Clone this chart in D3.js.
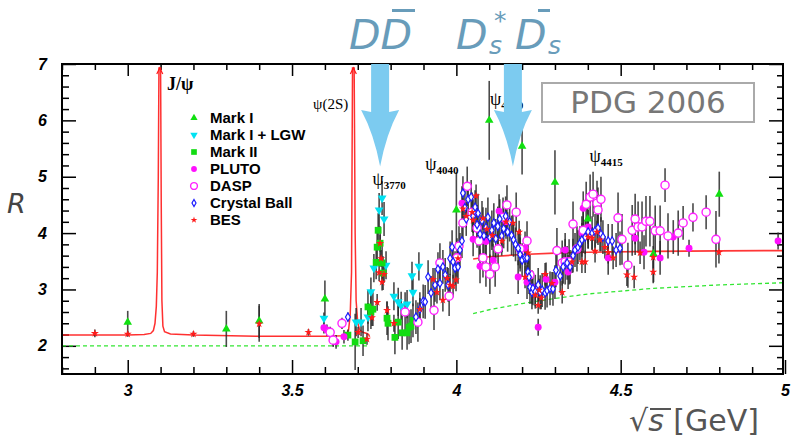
<!DOCTYPE html>
<html>
<head>
<meta charset="utf-8">
<script src="https://cdn.jsdelivr.net/npm/d3@7"></script>
<style>
  html, body { margin: 0; padding: 0; background: #fff; }
  svg { display: block; }
</style>
</head>
<body>
<svg id="chart" width="792" height="438"></svg>
<script>
// ---- Measurements: [sqrt(s) in GeV, R, error on R] ----
const markI = [
  [3.000, 2.42, 0.20], [3.300, 2.30, 0.32], [3.400, 2.44, 0.30], [3.600, 2.83, 0.33],
  [4.000, 4.41, 0.67], [4.100, 6.00, 0.70], [4.200, 5.54, 0.50], [4.300, 4.90, 0.57],
  [4.400, 4.25, 0.40], [4.600, 3.63, 0.50], [4.800, 4.69, 0.40]
];
const markILGW = [
  [3.597, 2.49, 0.10], [3.695, 2.42, 0.25], [3.710, 2.42, 0.25], [3.731, 2.51, 0.25],
  [3.740, 2.96, 0.25], [3.749, 3.38, 0.25], [3.765, 4.41, 0.30], [3.774, 4.62, 0.30],
  [3.780, 4.25, 0.30], [3.786, 3.43, 0.25], [3.810, 2.88, 0.25], [3.823, 2.78, 0.25],
  [3.832, 2.71, 0.25], [3.850, 2.74, 0.25], [3.865, 3.24, 0.25], [3.868, 2.95, 0.25],
  [3.886, 3.41, 0.25]
];
const markII = [
  [3.670, 2.19, 0.10], [3.692, 2.07, 0.50], [3.716, 2.09, 0.27], [3.731, 2.69, 0.30],
  [3.740, 2.60, 0.30], [3.746, 2.65, 0.30], [3.756, 3.48, 0.30], [3.759, 3.75, 0.30],
  [3.762, 4.05, 0.30], [3.768, 3.82, 0.30], [3.774, 3.47, 0.30], [3.777, 3.29, 0.30],
  [3.789, 2.49, 0.30], [3.792, 2.40, 0.30], [3.813, 2.15, 0.30], [3.823, 2.42, 0.30],
  [3.835, 2.23, 0.30], [3.850, 2.23, 0.30], [3.856, 2.33, 0.30], [3.862, 2.35, 0.30],
  [3.868, 2.45, 0.30]
];
const pluto = [
  [3.597, 2.32, 0.10], [3.606, 2.28, 0.10], [3.625, 2.10, 0.12], [3.634, 2.07, 0.12],
  [3.658, 2.16, 0.12], [4.017, 4.53, 0.30], [4.051, 3.89, 0.30], [4.072, 3.41, 0.30],
  [4.090, 3.85, 0.30], [4.112, 3.52, 0.30], [4.130, 4.39, 0.30], [4.151, 4.20, 0.30],
  [4.188, 3.22, 0.30], [4.209, 3.73, 0.30], [4.215, 3.13, 0.30], [4.230, 3.04, 0.30],
  [4.249, 2.33, 0.15], [4.273, 3.18, 0.30], [4.300, 3.13, 0.30], [4.331, 3.70, 0.30],
  [4.340, 3.31, 0.30], [4.382, 4.00, 0.30], [4.386, 4.44, 0.30], [4.401, 4.11, 0.30],
  [4.462, 3.56, 0.30], [4.544, 3.91, 0.30], [4.571, 3.66, 0.30], [4.620, 3.56, 0.30],
  [4.660, 3.93, 0.30], [4.708, 3.73, 0.15], [4.979, 3.86, 0.15]
];
const dasp = [
  [3.616, 2.24, 0.10], [3.625, 2.10, 0.10], [3.652, 2.40, 0.10], [3.844, 2.60, 0.35],
  [3.883, 2.42, 0.35], [3.932, 2.63, 0.35], [3.950, 3.47, 0.35], [3.978, 2.88, 0.35],
  [4.002, 3.56, 0.35], [4.008, 3.77, 0.35], [4.020, 4.18, 0.35], [4.033, 4.83, 0.35],
  [4.048, 4.37, 0.35], [4.063, 4.09, 0.35], [4.069, 3.86, 0.35], [4.081, 3.56, 0.35],
  [4.090, 3.40, 0.35], [4.102, 3.27, 0.35], [4.118, 3.40, 0.35], [4.127, 3.72, 0.35],
  [4.142, 4.28, 0.35], [4.154, 4.50, 0.35], [4.182, 4.37, 0.35], [4.194, 3.72, 0.35],
  [4.215, 3.86, 0.35], [4.224, 3.26, 0.35], [4.306, 3.69, 0.40], [4.322, 3.47, 0.40],
  [4.331, 3.49, 0.40], [4.343, 3.49, 0.40], [4.355, 4.16, 0.40], [4.367, 3.72, 0.40],
  [4.386, 4.05, 0.40], [4.395, 4.51, 0.40], [4.407, 4.64, 0.40], [4.416, 4.69, 0.40],
  [4.428, 4.53, 0.40], [4.431, 4.41, 0.40], [4.440, 4.60, 0.40], [4.492, 4.27, 0.45],
  [4.504, 3.89, 0.45], [4.522, 3.43, 0.40], [4.535, 4.05, 0.45], [4.544, 4.25, 0.45],
  [4.553, 4.11, 0.45], [4.565, 4.11, 0.45], [4.577, 4.21, 0.45], [4.589, 4.21, 0.45],
  [4.605, 4.04, 0.45], [4.620, 4.04, 0.45], [4.635, 4.85, 0.30], [4.644, 3.95, 0.40],
  [4.675, 4.00, 0.40], [4.690, 4.18, 0.30], [4.720, 4.28, 0.25], [4.760, 4.37, 0.30],
  [4.790, 3.89, 0.50]
];
const crystalBall = [
  [3.670, 2.51, 0.08], [3.877, 2.51, 0.30], [3.889, 2.65, 0.30], [3.899, 2.79, 0.30],
  [3.905, 2.78, 0.30], [3.914, 3.22, 0.30], [3.923, 2.94, 0.30], [3.935, 3.08, 0.30],
  [3.944, 3.36, 0.30], [3.950, 3.11, 0.30], [3.959, 3.40, 0.30], [3.966, 3.26, 0.30],
  [3.975, 3.08, 0.30], [3.981, 3.55, 0.30], [3.987, 3.75, 0.30], [3.990, 3.49, 0.30],
  [3.996, 3.38, 0.30], [4.005, 3.40, 0.30], [4.011, 3.70, 0.30], [4.017, 3.86, 0.30],
  [4.020, 4.71, 0.30], [4.026, 4.45, 0.30], [4.030, 4.25, 0.30], [4.036, 4.60, 0.30],
  [4.045, 4.64, 0.30], [4.051, 4.30, 0.30], [4.057, 4.46, 0.30], [4.063, 4.15, 0.35],
  [4.066, 4.35, 0.35], [4.072, 3.98, 0.35], [4.078, 4.22, 0.35], [4.084, 3.95, 0.35],
  [4.090, 4.10, 0.35], [4.096, 4.28, 0.35], [4.102, 3.92, 0.35], [4.108, 4.05, 0.35],
  [4.114, 4.18, 0.35], [4.120, 3.90, 0.35], [4.126, 4.12, 0.35], [4.132, 4.25, 0.35],
  [4.138, 3.95, 0.35], [4.144, 4.08, 0.35], [4.150, 4.30, 0.35], [4.156, 4.02, 0.35],
  [4.162, 4.20, 0.35], [4.168, 3.96, 0.35], [4.174, 3.88, 0.30], [4.180, 3.80, 0.30],
  [4.188, 3.73, 0.30], [4.194, 3.62, 0.30], [4.200, 3.52, 0.30], [4.209, 3.56, 0.30],
  [4.215, 3.56, 0.30], [4.218, 3.31, 0.30], [4.221, 3.22, 0.30], [4.224, 3.04, 0.30],
  [4.230, 2.95, 0.30], [4.233, 3.02, 0.30], [4.240, 2.96, 0.30], [4.249, 3.08, 0.30],
  [4.255, 2.95, 0.30], [4.261, 2.99, 0.30], [4.270, 2.94, 0.30], [4.276, 2.98, 0.30],
  [4.285, 3.02, 0.30], [4.294, 3.01, 0.30], [4.303, 3.34, 0.30], [4.316, 3.24, 0.30],
  [4.325, 3.40, 0.30], [4.337, 3.47, 0.30], [4.346, 3.40, 0.30], [4.355, 3.60, 0.30],
  [4.361, 3.70, 0.30], [4.370, 3.75, 0.30], [4.376, 3.82, 0.30], [4.382, 3.88, 0.30],
  [4.392, 3.93, 0.30], [4.401, 4.02, 0.30], [4.413, 4.00, 0.30], [4.422, 4.04, 0.30],
  [4.431, 4.09, 0.30], [4.440, 3.98, 0.30], [4.446, 3.93, 0.30], [4.462, 3.86, 0.30],
  [4.474, 3.86, 0.30], [4.486, 3.70, 0.30], [4.498, 3.73, 0.30]
];
const bes = [
  [2.900, 2.22, 0.07], [3.000, 2.21, 0.05], [3.200, 2.21, 0.05], [3.400, 2.39, 0.32],
  [3.550, 2.24, 0.06], [3.701, 2.24, 0.10], [3.728, 2.12, 0.10], [3.743, 2.50, 0.15],
  [3.759, 2.77, 0.15], [3.765, 3.30, 0.15], [3.768, 3.82, 0.15], [3.771, 3.55, 0.15],
  [3.774, 3.13, 0.15], [3.780, 3.27, 0.15], [3.789, 2.63, 0.15], [3.810, 2.40, 0.15],
  [3.889, 2.65, 0.20], [3.929, 3.18, 0.20], [3.941, 2.95, 0.20], [3.959, 2.81, 0.20],
  [3.972, 3.20, 0.20], [3.981, 3.08, 0.20], [3.990, 3.06, 0.20], [3.999, 3.17, 0.20],
  [4.005, 3.55, 0.20], [4.020, 4.43, 0.20], [4.030, 4.30, 0.20], [4.048, 4.37, 0.20],
  [4.051, 4.23, 0.20], [4.060, 4.66, 0.20], [4.081, 4.26, 0.20], [4.093, 4.07, 0.20],
  [4.109, 3.96, 0.20], [4.139, 3.86, 0.20], [4.151, 4.20, 0.20], [4.172, 4.18, 0.20],
  [4.191, 4.02, 0.20], [4.209, 3.22, 0.20], [4.218, 3.65, 0.20], [4.240, 2.90, 0.20],
  [4.249, 2.72, 0.15], [4.252, 2.99, 0.20], [4.258, 2.85, 0.20], [4.270, 3.27, 0.20],
  [4.291, 3.11, 0.20], [4.322, 2.95, 0.20], [4.352, 3.49, 0.20], [4.382, 3.49, 0.20],
  [4.392, 3.49, 0.20], [4.401, 3.93, 0.20], [4.413, 3.91, 0.20], [4.422, 3.68, 0.20],
  [4.428, 4.02, 0.20], [4.437, 3.88, 0.20], [4.452, 3.75, 0.20], [4.462, 3.66, 0.20],
  [4.477, 3.56, 0.20], [4.519, 3.26, 0.20], [4.541, 3.22, 0.20], [4.559, 3.65, 0.20],
  [4.599, 3.57, 0.20], [4.599, 3.31, 0.20], [4.799, 3.66, 0.20]
];

// ---- Curves: [sqrt(s), R] ----
const resonanceCurve = [
  [2.800, 2.19], [2.900, 2.19], [3.000, 2.19], [3.050, 2.20], [3.070, 2.22], [3.078, 2.27],
  [3.083, 2.40], [3.087, 2.70], [3.090, 3.30], [3.093, 5.00], [3.095, 6.93], [3.100, 6.93],
  [3.102, 4.50], [3.104, 2.80], [3.107, 2.35], [3.112, 2.25], [3.130, 2.21], [3.200, 2.19],
  [3.400, 2.17], [3.600, 2.17], [3.650, 2.18], [3.665, 2.20], [3.672, 2.28], [3.677, 2.55],
  [3.681, 3.30], [3.684, 6.93], [3.689, 6.93], [3.692, 4.00], [3.695, 2.80], [3.700, 2.40],
  [3.706, 2.28], [3.715, 2.24], [3.728, 2.22], [3.733, 2.20], [3.736, 2.16]
];
const highCurve = [
  [4.051, 3.54], [4.100, 3.58], [4.200, 3.62], [4.300, 3.645], [4.400, 3.66],
  [4.600, 3.675], [4.800, 3.685], [5.000, 3.69]
];
const udsLow = [[2.800, 2.00], [3.736, 2.00]];
const udsHigh = [
  [4.051, 2.57], [4.100, 2.64], [4.200, 2.75], [4.300, 2.84], [4.400, 2.92], [4.500, 2.97],
  [4.600, 3.02], [4.700, 3.05], [4.800, 3.08], [4.900, 3.10], [5.000, 3.12]
];
const offScalePeaks = [3.0975, 3.6865];

// ---- Labels ----
const xTickLabels = [3, 3.5, 4, 4.5, 5];
const yTickLabels = [2, 3, 4, 5, 6, 7];
const thresholds = [3.768, 4.172];   // arrow positions (GeV)
const resonances = [
  {name: "ψ", sub: "3770", E: 3.745, R: 4.86},
  {name: "ψ", sub: "4040", E: 3.905, R: 5.12},
  {name: "ψ", sub: "4160", E: 4.102, R: 6.27},
  {name: "ψ", sub: "4415", E: 4.405, R: 5.27}
];
const legendEntries = ["Mark I", "Mark I + LGW", "Mark II", "PLUTO", "DASP", "Crystal Ball", "BES"];

// ---- Layout ----
const svg = d3.select("#chart");
const padL = 62, padR = 783, padT = 64, padB = 374;
const x = d3.scaleLinear().domain([2.8, 5.0]).range([padL, 785]);
const y = d3.scaleLinear().domain([1.5, 7.0]).range([padB, padT]);

svg.append("defs").append("clipPath").attr("id", "plotClip")
  .append("rect").attr("x", padL).attr("y", padT).attr("width", padR - padL).attr("height", padB - padT);

// ---- Axes (ticks point inward on all four sides) ----
const xMinor = x.ticks(22).filter(v => !xTickLabels.some(m => Math.abs(m - v) < 1e-6));
const yMinor = d3.range(1.6, 7.0001, 0.2).filter(v => !yTickLabels.some(m => Math.abs(m - v) < 1e-6));
const tickStyle = g => {
  g.select(".domain").remove();
  g.selectAll(".tick line").attr("stroke", "#000").attr("stroke-width", 1.5);
  g.selectAll(".tick text").attr("fill", "#000")
    .style("font-family", "'Liberation Sans', Arial, sans-serif")
    .style("font-weight", "bold").style("font-style", "italic").style("font-size", "16px");
};
const noLabel = () => "";

svg.append("g").attr("transform", `translate(0,${padB})`)
  .call(d3.axisBottom(x).tickValues(xMinor).tickSize(-7).tickFormat(noLabel)).call(tickStyle);
svg.append("g").attr("transform", `translate(0,${padB})`)
  .call(d3.axisBottom(x).tickValues(xTickLabels).tickSize(-14).tickPadding(11).tickFormat(d3.format("~g")))
  .call(tickStyle);
svg.append("g").attr("transform", `translate(0,${padT})`)
  .call(d3.axisTop(x).tickValues(xMinor).tickSize(-6).tickFormat(noLabel)).call(tickStyle);
svg.append("g").attr("transform", `translate(0,${padT})`)
  .call(d3.axisTop(x).tickValues(xTickLabels.filter(v => v < 5)).tickSize(-12).tickFormat(noLabel)).call(tickStyle);
svg.append("g").attr("transform", `translate(${padL},0)`)
  .call(d3.axisLeft(y).tickValues(yMinor).tickSize(-7).tickFormat(noLabel)).call(tickStyle);
svg.append("g").attr("transform", `translate(${padL},0)`)
  .call(d3.axisLeft(y).tickValues(yTickLabels).tickSize(-14).tickPadding(15).tickFormat(d3.format("d")))
  .call(tickStyle);
svg.append("g").attr("transform", `translate(${padR},0)`)
  .call(d3.axisRight(y).tickValues(yMinor).tickSize(-6).tickFormat(noLabel)).call(tickStyle);
svg.append("g").attr("transform", `translate(${padR},0)`)
  .call(d3.axisRight(y).tickValues(yTickLabels).tickSize(-14).tickFormat(noLabel)).call(tickStyle);

// ---- Curves ----
const plot = svg.append("g").attr("clip-path", "url(#plotClip)");
const line = d3.line().x(d => x(d[0])).y(d => y(d[1]));
plot.append("path").datum(udsLow).attr("d", line).attr("fill", "none")
  .attr("stroke", "#33e633").attr("stroke-width", 1.3).attr("stroke-dasharray", "4,3");
plot.append("path").datum(udsHigh).attr("d", line).attr("fill", "none")
  .attr("stroke", "#33e633").attr("stroke-width", 1.3).attr("stroke-dasharray", "4,3");
plot.append("path").datum(resonanceCurve).attr("d", line).attr("fill", "none")
  .attr("stroke", "#ff1a1a").attr("stroke-width", 1.5).attr("stroke-opacity", 0.9);
plot.append("path").datum(highCurve).attr("d", line).attr("fill", "none")
  .attr("stroke", "#ff2020").attr("stroke-width", 1.7).attr("stroke-opacity", 0.9);
// carets marking peaks that run off the top
svg.selectAll(".peakCaret").data(offScalePeaks).join("path").attr("class", "peakCaret")
  .attr("transform", d => `translate(${x(d)},${y(6.93)})`)
  .attr("d", "M-3,6L0,0L3,6").attr("fill", "none").attr("stroke", "#ff1a1a").attr("stroke-width", 1.2);

// ---- Data series ----
const series = [
  {data: markI,       type: d3.symbolTriangle, size: 32, rot: 0,   fill: "#10e010", stroke: "none"},
  {data: markILGW,    type: d3.symbolTriangle, size: 34, rot: 180, fill: "#00e2f2", stroke: "none"},
  {data: markII,      type: d3.symbolSquare,   size: 46, rot: 0,   fill: "#12dc12", stroke: "none"},
  {data: pluto,       type: d3.symbolCircle,   size: 38, rot: 0,   fill: "#ff10ff", stroke: "none"},
  {data: dasp,        type: d3.symbolCircle,   size: 52, rot: 0,   fill: "#fff",    stroke: "#ff22ff", sw: 1.4},
  {data: crystalBall, type: d3.symbolDiamond,  size: 20, rot: 0,   fill: "#fff",    stroke: "#1a1aff", sw: 1.2},
  {data: bes,         type: d3.symbolStar,     size: 20, rot: 0,   fill: "#ff1a1a", stroke: "none"}
];

const errLayer = plot.append("g");
series.forEach(s => {
  errLayer.selectAll(null).data(s.data).join("line")
    .attr("x1", d => x(d[0])).attr("x2", d => x(d[0]))
    .attr("y1", d => y(d[1] - d[2])).attr("y2", d => y(d[1] + d[2]))
    .attr("stroke", "#2a2a2a").attr("stroke-width", 1.6).attr("stroke-opacity", 0.85);
});
series.forEach(s => {
  plot.append("g").selectAll("path").data(s.data).join("path")
    .attr("transform", d => `translate(${x(d[0])},${y(d[1])}) rotate(${s.rot})`)
    .attr("d", d3.symbol().type(s.type).size(s.size))
    .attr("fill", s.fill).attr("stroke", s.stroke).attr("stroke-width", s.sw || 0);
});

// ---- Frame ----
svg.append("rect").attr("x", padL).attr("y", padT).attr("width", padR - padL).attr("height", padB - padT)
  .attr("fill", "none").attr("stroke", "#000").attr("stroke-width", 2);

// ---- Resonance labels ----
const serif = "'Liberation Serif', 'Times New Roman', serif";
svg.append("text").attr("x", 167).attr("y", 90).style("font-family", serif)
  .style("font-size", "18px").style("font-weight", "bold").text("J/ψ");
svg.append("text").attr("x", 313).attr("y", 109).style("font-family", serif)
  .style("font-size", "15px").text("ψ(2S)");
resonances.forEach(r => {
  const t = svg.append("text").attr("x", x(r.E)).attr("y", y(r.R)).style("font-family", serif);
  t.append("tspan").style("font-size", "18px").text(r.name);
  t.append("tspan").attr("dy", 4).style("font-size", "11px").style("font-weight", "bold").text(r.sub);
});

// ---- Legend ----
const legend = svg.append("g");
legendEntries.forEach((name, i) => {
  const s = series[i];
  const ly = 118 + i * 17;
  legend.append("path").attr("transform", `translate(194,${ly}) rotate(${s.rot})`)
    .attr("d", d3.symbol().type(s.type).size(s.size * 0.7))
    .attr("fill", s.fill).attr("stroke", s.stroke).attr("stroke-width", s.sw || 0);
  legend.append("text").attr("x", 210).attr("y", ly).attr("dy", "0.35em")
    .style("font-family", "'Liberation Sans', Arial, sans-serif").style("font-weight", "bold")
    .style("font-size", "15px").text(name);
});

// ---- Threshold arrows ----
const arrowColor = "#7ccbf0";
thresholds.forEach(E => {
  const cx = x(E), yTop = y(7.0), yHead = y(6.15), yTip = y(5.18);
  const p = d3.path();
  p.moveTo(cx - 9, yTop); p.lineTo(cx + 9, yTop); p.lineTo(cx + 9, yHead);
  p.lineTo(cx + 19, yHead - 2);
  p.quadraticCurveTo(cx + 6, yHead + 22, cx, yTip);
  p.quadraticCurveTo(cx - 6, yHead + 22, cx - 19, yHead - 2);
  p.lineTo(cx - 9, yHead); p.closePath();
  svg.append("path").attr("d", p.toString()).attr("fill", arrowColor);
});

// ---- Titles ----
const titleColor = "#689cba";
const dv = "'DejaVu Sans', Verdana, sans-serif";
svg.append("text").attr("x", 349).attr("y", 49).style("font-family", dv).style("font-style", "italic")
  .style("font-size", "41px").attr("fill", titleColor).text("DD");
svg.append("rect").attr("x", 392).attr("y", 9).attr("width", 23).attr("height", 3).attr("fill", titleColor);
const t2 = svg.append("text").attr("y", 49).style("font-family", dv).style("font-style", "italic")
  .attr("fill", titleColor);
t2.append("tspan").attr("x", 456).style("font-size", "41px").text("D");
t2.append("tspan").attr("x", 489).attr("y", 54).style("font-size", "25px").text("s");
t2.append("tspan").attr("x", 494).attr("y", 29).style("font-size", "25px").text("*");
t2.append("tspan").attr("x", 515).attr("y", 49).style("font-size", "41px").text("D");
t2.append("tspan").attr("x", 548).attr("y", 54).style("font-size", "25px").text("s");
svg.append("rect").attr("x", 538).attr("y", 9).attr("width", 12).attr("height", 3).attr("fill", titleColor);

// ---- PDG tag ----
svg.append("rect").attr("x", 542).attr("y", 83).attr("width", 212).attr("height", 39)
  .attr("fill", "#fff").attr("stroke", "#aaa").attr("stroke-width", 2);
svg.append("text").attr("x", 648).attr("y", 113).attr("text-anchor", "middle")
  .style("font-family", dv).style("font-size", "31px").attr("fill", "#777").text("PDG 2006");

// ---- Axis titles ----
svg.append("text").attr("x", 7).attr("y", 213).style("font-family", dv).style("font-style", "italic")
  .style("font-size", "27px").attr("fill", "#444").text("R");
const xt = svg.append("text").attr("x", 629).attr("y", 431).style("font-family", dv)
  .style("font-size", "30px").attr("fill", "#555");
xt.append("tspan").text("√");
xt.append("tspan").style("font-style", "italic").text("s");
xt.append("tspan").text(" [GeV]");
svg.append("line").attr("x1", 650).attr("x2", 671).attr("y1", 409).attr("y2", 409)
  .attr("stroke", "#555").attr("stroke-width", 2);
</script>
</body>
</html>
